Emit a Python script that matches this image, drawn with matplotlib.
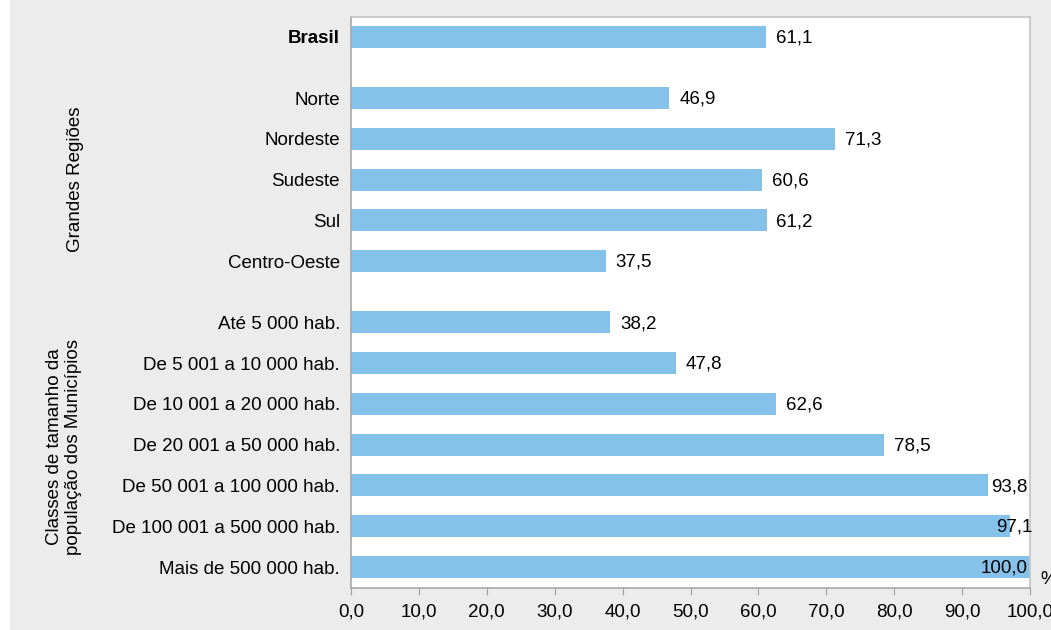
import matplotlib
matplotlib.use("Agg")
import matplotlib.pyplot as plt
from matplotlib.patches import Rectangle

plt.rcParams['font.family'] = ['Liberation Sans', 'DejaVu Sans']

categories = [
    "Brasil",
    "Norte", "Nordeste", "Sudeste", "Sul", "Centro-Oeste",
    "Até 5 000 hab.", "De 5 001 a 10 000 hab.", "De 10 001 a 20 000 hab.",
    "De 20 001 a 50 000 hab.", "De 50 001 a 100 000 hab.",
    "De 100 001 a 500 000 hab.", "Mais de 500 000 hab.",
]
values = [61.1, 46.9, 71.3, 60.6, 61.2, 37.5,
          38.2, 47.8, 62.6, 78.5, 93.8, 97.1, 100.0]
# vertical slots: Brasil, then regions, then municipality size classes
positions = [0, 1.5, 2.5, 3.5, 4.5, 5.5, 7, 8, 9, 10, 11, 12, 13]
xticks = [0, 10, 20, 30, 40, 50, 60, 70, 80, 90, 100]
group_regions = "Grandes Regiões"
group_sizes = "Classes de tamanho da\npopulação dos Municípios"

BG = "#ececec"
BAR = "#85c2e9"
FS = 13.5

fig = plt.figure(figsize=(10.51, 6.30), dpi=100)
fig.patch.set_facecolor(BG)
fig.add_artist(Rectangle((0, 0), 10 / 1051, 1, transform=fig.transFigure,
                         facecolor="white", edgecolor="none", zorder=-1))

ax = fig.add_axes([351 / 1051, 1 - 588 / 630, 679 / 1051, 571 / 630])
ax.set_facecolor("white")
ax.barh(positions, values, height=0.54, color=BAR, zorder=2)

ax.set_xlim(0, 100)
ax.set_ylim(13.515, -0.49)
ax.set_xticks(xticks)
ax.set_xticklabels([f"{t:.1f}".replace(".", ",") for t in xticks], fontsize=FS)
ax.set_yticks(positions)
ax.set_yticklabels(categories, fontsize=FS)
ax.get_yticklabels()[0].set_fontweight("bold")
ax.tick_params(axis="y", length=0, pad=8)
ax.tick_params(axis="x", length=5, color="#a0a0a0", pad=6)

for side in ["top", "right"]:
    ax.spines[side].set_color("#c4c4c4")
for side in ["left", "bottom"]:
    ax.spines[side].set_color("#a8a8a8")
for s in ax.spines.values():
    s.set_linewidth(1.2)

for y, v in zip(positions, values):
    txt = f"{v:.1f}".replace(".", ",")
    if v < 90:
        ax.annotate(txt, (v, y + 0.03), xytext=(7, 0), textcoords="offset points",
                    ha="left", va="center", fontsize=FS, clip_on=False)
    elif v < 95:
        ax.annotate(txt, (v, y + 0.03), xytext=(2, 0), textcoords="offset points",
                    ha="left", va="center", fontsize=FS, clip_on=False)
    else:
        # labels near the axis end are pinned to the right edge
        ax.annotate(txt, (100, y + 0.03), xytext=(1.5 if v < 100 else -2, 0),
                    textcoords="offset points", ha="right", va="center",
                    fontsize=FS, clip_on=False)

fig.text(75 / 1051, 1 - 179 / 630, group_regions, rotation=90,
         ha="center", va="center", fontsize=FS)
fig.text(64 / 1051, 1 - 447 / 630, group_sizes, rotation=90,
         ha="center", va="center", fontsize=FS, linespacing=1.15)
fig.text(1040 / 1051, 1 - 580 / 630, "%", ha="left", va="center", fontsize=FS)

fig.savefig("out.png", dpi=100, facecolor=BG)
